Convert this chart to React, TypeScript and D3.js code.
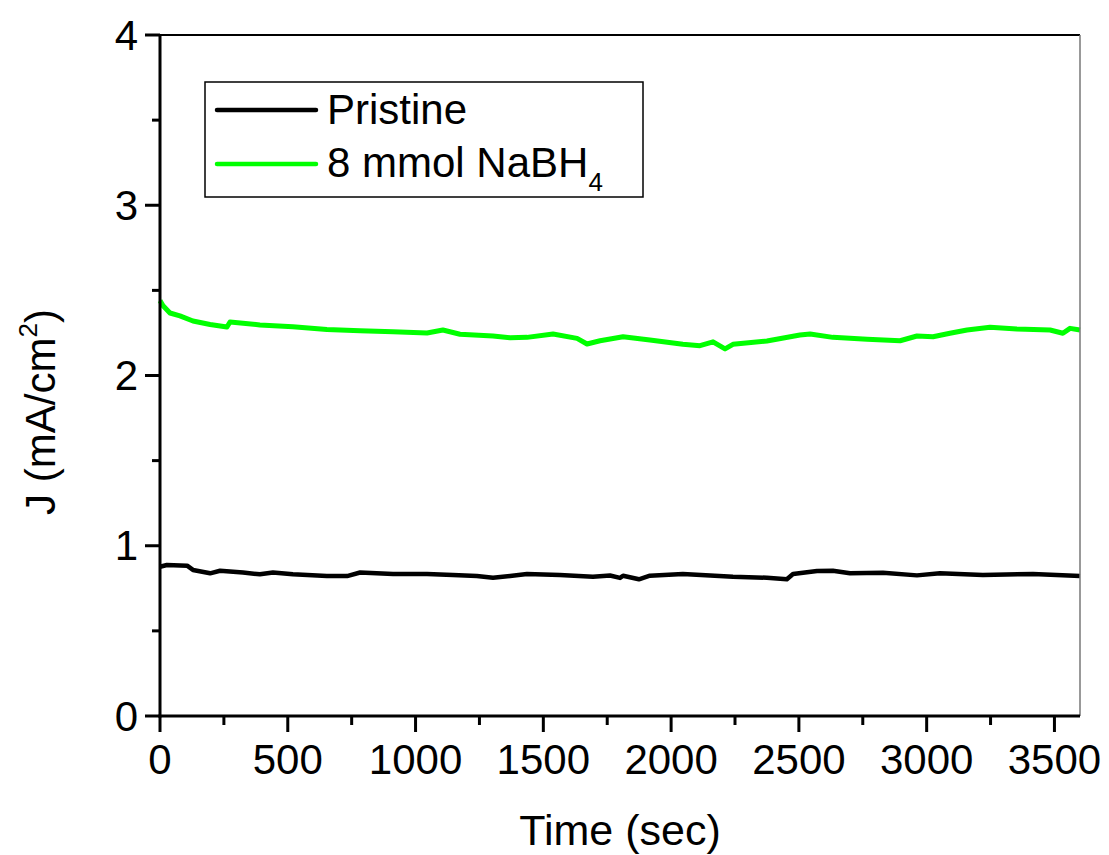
import React from 'react';
import * as d3 from 'd3';

// Pristine sample (black)
const pristineTime = [0, 27, 106, 129, 196, 235, 325, 391, 442, 520, 653, 732, 783, 912, 1045, 1146, 1240, 1303, 1370, 1436, 1565, 1694, 1761, 1800, 1812, 1874, 1917, 2046, 2242, 2375, 2453, 2477, 2571, 2633, 2700, 2829, 2962, 3052, 3220, 3416, 3600];
const pristineJ = [0.877, 0.887, 0.883, 0.858, 0.838, 0.853, 0.843, 0.832, 0.843, 0.832, 0.822, 0.822, 0.843, 0.834, 0.834, 0.828, 0.822, 0.812, 0.822, 0.834, 0.828, 0.818, 0.825, 0.811, 0.824, 0.803, 0.824, 0.834, 0.818, 0.812, 0.803, 0.834, 0.852, 0.853, 0.838, 0.842, 0.826, 0.838, 0.828, 0.834, 0.822];

// 8 mmol NaBH4 sample (green)
const nabhTime = [0, 12, 39, 78, 129, 196, 262, 274, 391, 520, 653, 783, 912, 1045, 1107, 1174, 1303, 1370, 1436, 1538, 1632, 1671, 1722, 1812, 1917, 2046, 2113, 2164, 2211, 2242, 2375, 2504, 2544, 2633, 2767, 2896, 2962, 3025, 3091, 3158, 3248, 3353, 3483, 3533, 3561, 3600];
const nabhJ = [2.44, 2.41, 2.367, 2.35, 2.32, 2.3, 2.285, 2.314, 2.297, 2.287, 2.27, 2.263, 2.257, 2.25, 2.267, 2.242, 2.232, 2.222, 2.224, 2.244, 2.218, 2.185, 2.204, 2.228, 2.209, 2.183, 2.175, 2.198, 2.156, 2.183, 2.203, 2.238, 2.244, 2.224, 2.213, 2.204, 2.232, 2.228, 2.248, 2.267, 2.283, 2.273, 2.267, 2.248, 2.277, 2.267];

const xMajor = [0, 500, 1000, 1500, 2000, 2500, 3000, 3500];
const xMinor = [250, 750, 1250, 1750, 2250, 2750, 3250];
const yMajor = [0, 1, 2, 3, 4];
const yMinor = [0.5, 1.5, 2.5, 3.5];

const W = 1109;
const H = 855;
const margin = { top: 35, right: 29, bottom: 139, left: 160 };
const FONT = '"Liberation Sans", Arial, Helvetica, sans-serif';

export default function App() {
  const innerW = W - margin.left - margin.right;
  const innerH = H - margin.top - margin.bottom;

  const x = d3.scaleLinear().domain([0, 3600]).range([0, innerW]);
  const y = d3.scaleLinear().domain([0, 4]).range([innerH, 0]);

  const line = d3.line<[number, number]>()
    .x(d => x(d[0]))
    .y(d => y(d[1]));

  const pristine = pristineTime.map((t, i) => [t, pristineJ[i]] as [number, number]);
  const nabh = nabhTime.map((t, i) => [t, nabhJ[i]] as [number, number]);

  return (
    <svg width={W} height={H} style={{ position: 'absolute', left: 0, top: 0, background: '#fff' }} fontFamily={FONT}>
      <g transform={`translate(${margin.left},${margin.top})`}>
        {/* data */}
        <path d={line(nabh) || ''} fill="none" stroke="#00ff00" strokeWidth={5} strokeLinejoin="round" />
        <path d={line(pristine) || ''} fill="none" stroke="#000" strokeWidth={4.5} strokeLinejoin="round" />

        {/* frame */}
        <line x1={0} x2={innerW} y1={0} y2={0} stroke="#000" strokeWidth={2} />
        <line x1={innerW} x2={innerW} y1={0} y2={innerH} stroke="#777" strokeWidth={1.5} />
        <line x1={0} x2={0} y1={-1} y2={innerH + 1.5} stroke="#000" strokeWidth={3} />
        <line x1={-1.5} x2={innerW} y1={innerH} y2={innerH} stroke="#000" strokeWidth={3} />

        {/* x axis ticks */}
        {xMajor.map(t => (
          <g key={'xM' + t} transform={`translate(${x(t)},${innerH})`}>
            <line y1={0} y2={16} stroke="#000" strokeWidth={3} />
            <text y={58} textAnchor="middle" fontSize={42}>{t}</text>
          </g>
        ))}
        {xMinor.map(t => (
          <line key={'xm' + t} x1={x(t)} x2={x(t)} y1={innerH} y2={innerH + 9} stroke="#000" strokeWidth={3} />
        ))}

        {/* y axis ticks */}
        {yMajor.map(v => (
          <g key={'yM' + v} transform={`translate(0,${y(v)})`}>
            <line x1={-15} x2={0} stroke="#000" strokeWidth={3} />
            <text x={-22} dy="0.35em" textAnchor="end" fontSize={42}>{v}</text>
          </g>
        ))}
        {yMinor.map(v => (
          <line key={'ym' + v} x1={-8} x2={0} y1={y(v)} y2={y(v)} stroke="#000" strokeWidth={3} />
        ))}

        {/* axis titles */}
        <text x={innerW / 2} y={innerH + 129} textAnchor="middle" fontSize={43}>Time (sec)</text>
        <text transform={`translate(${55 - margin.left},${412 - margin.top}) rotate(-90)`} textAnchor="middle" fontSize={42}>
          J (mA/cm<tspan dy={-18} fontSize={26}>2</tspan><tspan dy={18}>)</tspan>
        </text>

        {/* legend */}
        <g transform={`translate(${205 - margin.left},${82 - margin.top})`}>
          <rect x={0} y={0} width={438} height={115} fill="#fff" stroke="#000" strokeWidth={1.5} />
          <line x1={12} x2={111} y1={28} y2={28} stroke="#000" strokeWidth={4.5} strokeLinecap="round" />
          <text x={122} y={42} fontSize={42}>Pristine</text>
          <line x1={12} x2={111} y1={82} y2={82} stroke="#00ff00" strokeWidth={4.5} strokeLinecap="round" />
          <text x={122} y={95} fontSize={42}>
            8 mmol NaBH<tspan dy={14} fontSize={26}>4</tspan>
          </text>
        </g>
      </g>
    </svg>
  );
}
